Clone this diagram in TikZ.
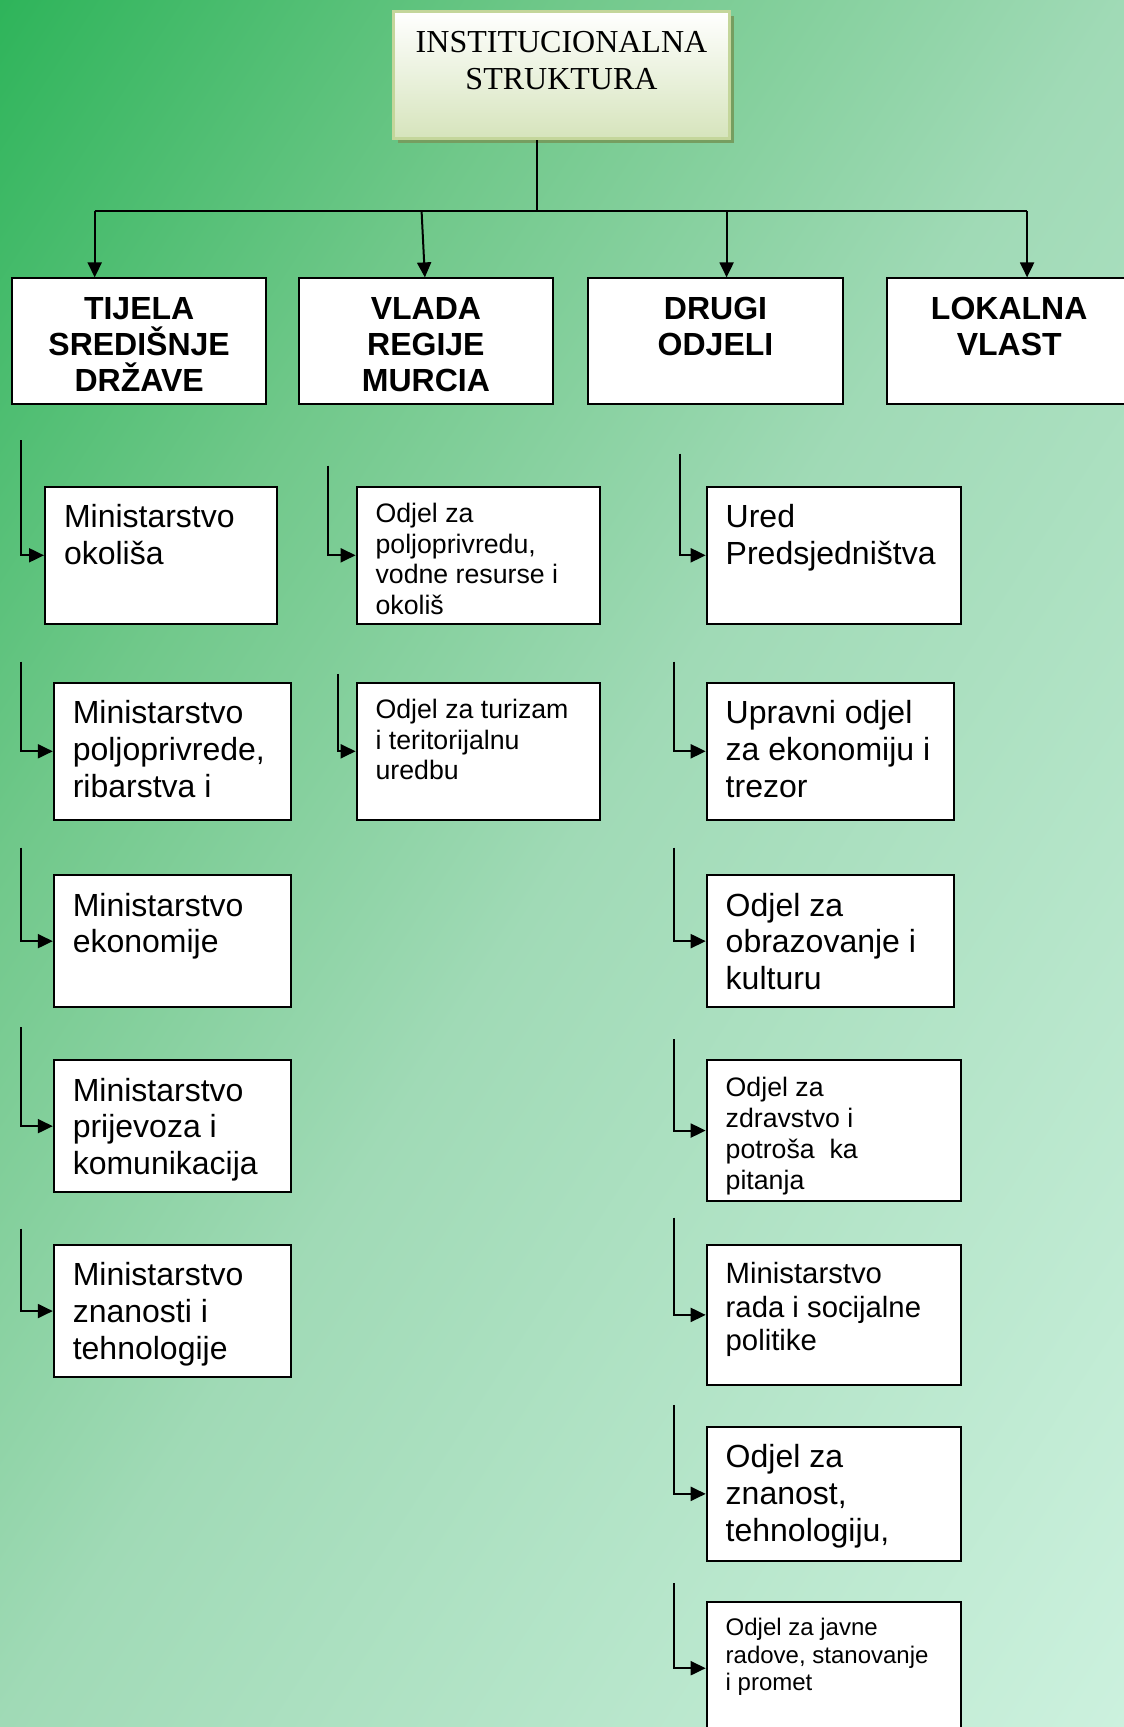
\documentclass[tikz,border=0pt]{standalone}
\usepackage{fontspec}
\setmainfont{Liberation Serif}
\setsansfont{Liberation Sans}
\usepackage{tikz}
\usetikzlibrary{arrows.meta}
\definecolor{bgdark}{RGB}{46,180,90}
\definecolor{bgquarter}{RGB}{112,200,138}
\definecolor{bgmid}{RGB}{160,218,182}
\definecolor{bglight}{RGB}{204,241,222}
\definecolor{topfill}{RGB}{214,228,188}
\definecolor{topline}{RGB}{196,214,155}
\definecolor{topshadow}{RGB}{118,158,96}
\pgfdeclarehorizontalshading{bgshade}{100bp}{color(0bp)=(bgdark); color(25bp)=(bgdark); color(37.5bp)=(bgquarter); color(50bp)=(bgmid); color(75bp)=(bglight); color(100bp)=(bglight)}
\tikzstyle{topbox} = [rectangle, draw=topline, line width=3pt, top color=white, bottom color=topfill, inner sep=0pt, anchor=north west, preaction={fill=topshadow, transform canvas={xshift=4pt, yshift=-4pt}}]
\tikzstyle{headbox} = [rectangle, draw=black, line width=2pt, fill=white, inner sep=0pt, anchor=north west]
\tikzstyle{unitbox} = [rectangle, draw=black, line width=2pt, fill=white, inner sep=0pt, anchor=north west]
\tikzstyle{wire} = [line width=2pt]
\tikzstyle{arrow} = [line width=2pt, -{Triangle[length=15pt,width=14pt]}]
\newcommand{\toptext}[1]{\parbox[c][127pt][t]{336pt}{\vspace*{12pt}\centering\fontsize{32}{37.4}\selectfont\rule{0pt}{0.9em}#1}}
\newcommand{\headtext}[2]{\parbox[c][125.5pt][t]{#1pt}{\vspace*{12pt}\centering\sffamily\bfseries\fontsize{32}{36}\selectfont\rule{0pt}{0.905em}#2}}
\newcommand{\unittext}[5]{\parbox[c][#2pt][t]{#1pt}{\vspace*{12pt}\raggedright\leftskip=19pt\sffamily\fontsize{#3}{#4}\selectfont\rule{0pt}{0.905em}#5}}

\begin{document}
\begin{tikzpicture}[x=1pt, y=-1pt]
      \useasboundingbox (0,0) rectangle (1124,1727);
      \clip (0,0) rectangle (1124,1727);
      \begin{scope}[transform canvas={rotate=-33.06}]
        \shade[shading=bgshade] (0,-1600) rectangle (1884,1600);
      \end{scope}
      \node (top)[topbox] at (392,10) {\toptext{INSTITUCIONALNA\\STRUKTURA}};
      \node (h1)[headbox] at (11,277.4) {\headtext{254.3}{TIJELA\\SREDIŠNJE\\DRŽAVE}};
      \node (h2)[headbox] at (298.3,277.4) {\headtext{253.2}{VLADA\\REGIJE\\MURCIA}};
      \node (h3)[headbox] at (586.8,277.4) {\headtext{255.4}{DRUGI\\ODJELI}};
      \node (h4)[headbox] at (886.2,277.4) {\headtext{244}{LOKALNA\\VLAST}};

      \node (c1)[unitbox] at (44,485.5) {\unittext{232.3}{137.6}{32}{36.8}{Ministarstvo\\okoliša}};
      \node (c2)[unitbox] at (52.8,681.5) {\unittext{236.7}{137.6}{32}{36.8}{Ministarstvo\\poljoprivrede,\\ribarstva i}};
      \node (c3)[unitbox] at (52.8,874.1) {\unittext{236.7}{132.1}{32}{36.8}{Ministarstvo\\ekonomije}};
      \node (c4)[unitbox] at (52.8,1059.1) {\unittext{236.7}{132.1}{32}{36.8}{Ministarstvo\\prijevoza i\\komunikacija}};
      \node (c5)[unitbox] at (52.8,1244) {\unittext{236.7}{132.1}{32}{36.8}{Ministarstvo\\znanosti i\\tehnologije}};

      \node (d1)[unitbox] at (355.6,485.5) {\unittext{243.3}{137.6}{26.7}{30.5}{Odjel za\\poljoprivredu,\\vodne resurse i\\okoliš}};
      \node (d2)[unitbox] at (355.6,681.5) {\unittext{243.3}{137.6}{26.7}{30.5}{Odjel za turizam\\i teritorijalnu\\uredbu}};

      \node (e1)[unitbox] at (705.7,485.5) {\unittext{254.3}{137.6}{32}{36.8}{Ured\\Predsjedništva}};
      \node (e2)[unitbox] at (705.7,681.5) {\unittext{247.7}{137.6}{32}{36.8}{Upravni odjel\\za ekonomiju i\\trezor}};
      \node (e3)[unitbox] at (705.7,874.1) {\unittext{247.7}{132.1}{32}{36.8}{Odjel za\\obrazovanje i\\kulturu}};
      \node (e4)[unitbox] at (705.7,1059.1) {\unittext{254.3}{140.9}{26.7}{31.1}{Odjel za\\zdravstvo i\\potroša\ \ ka\\pitanja}};
      \node (e5)[unitbox] at (705.7,1244) {\unittext{254.3}{139.8}{29.3}{33.6}{Ministarstvo\\rada i socijalne\\politike}};
      \node (e6)[unitbox] at (705.7,1425.7) {\unittext{254.3}{134.3}{32}{36.8}{Odjel za\\znanost,\\tehnologiju,}};
      \node (e7)[unitbox] at (705.7,1600.7) {\unittext{254.3}{133}{24}{27.6}{Odjel za javne\\radove, stanovanje\\i promet}};

      \coordinate (hub) at (537.2,211.4);
      \coordinate (b1) at (94.7,211.4);
      \coordinate (b2) at (421.6,211.4);
      \coordinate (b3) at (726.6,211.4);
      \coordinate (b4) at (1027.1,211.4);
      \draw [wire](hub |- top.south)--(hub);
      \draw [wire](b1)--(b4);
      \draw [arrow](b1)--(b1 |- h1.north);
      \draw [arrow](b2)--([xshift=-1pt]h2.north);
      \draw [arrow](b3)--(b3 |- h3.north);
      \draw [arrow](b4)--(b4 |- h4.north);

      \coordinate (kc1) at (20.9,440.4);
      \coordinate (kc2) at (20.9,661.6);
      \coordinate (kc3) at (20.9,847.7);
      \coordinate (kc4) at (20.9,1027.1);
      \coordinate (kc5) at (20.9,1228.6);
      \coordinate (kd1) at (328.1,465.7);
      \coordinate (kd2) at (338,673.8);
      \coordinate (ke1) at (680.4,453.6);
      \coordinate (ke2) at (673.8,661.6);
      \coordinate (ke3) at (673.8,847.7);
      \coordinate (ke4) at (673.8,1039.3);
      \coordinate (ke5) at (673.8,1217.6);
      \coordinate (ke6) at (673.8,1404.8);
      \coordinate (ke7) at (673.8,1583.1);
      \draw [arrow](kc1) |- (c1);
      \draw [arrow](kc2) |- (c2);
      \draw [arrow](kc3) |- (c3);
      \draw [arrow](kc4) |- (c4);
      \draw [arrow](kc5) |- (c5);
      \draw [arrow](kd1) |- (d1);
      \draw [arrow](kd2) |- (d2);
      \draw [arrow](ke1) |- (e1);
      \draw [arrow](ke2) |- (e2);
      \draw [arrow](ke3) |- (e3);
      \draw [arrow](ke4) |- (e4);
      \draw [arrow](ke5) |- (e5);
      \draw [arrow](ke6) |- (e6);
      \draw [arrow](ke7) |- (e7);
\end{tikzpicture}
\end{document}
